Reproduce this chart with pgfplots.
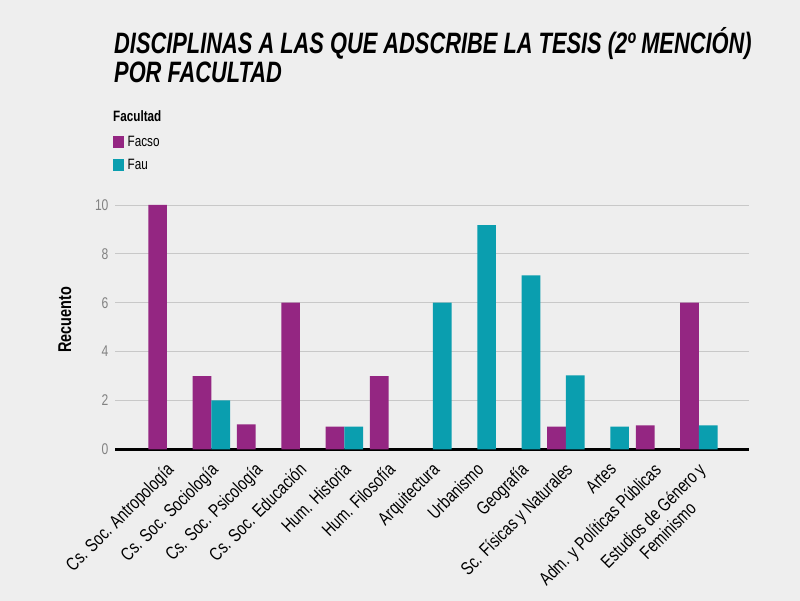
\documentclass[border=0pt]{standalone}
\usepackage{fontspec}
\setmainfont{Liberation Sans}[FakeStretch=0.78]
\newfontfamily\titlefont{Liberation Sans}[FakeStretch=0.74]
\usepackage{pgfplots}
\pgfplotsset{compat=1.18}
\definecolor{facso}{RGB}{148,38,130}
\definecolor{fau}{RGB}{10,158,175}
\definecolor{paper}{RGB}{238,238,238}
\definecolor{gridc}{RGB}{200,200,200}
\definecolor{tickc}{RGB}{130,130,130}

\begin{document}
\begin{tikzpicture}
  \fill[paper] (0pt,0pt) rectangle (800pt,601pt);
  \useasboundingbox (0pt,0pt) rectangle (800pt,601pt);
  % title
  \node[anchor=base west, inner sep=0pt, font=\titlefont\fontsize{29.5}{34}\selectfont\bfseries\itshape]
    at (114pt,547.7pt) {DISCIPLINAS A LAS QUE ADSCRIBE LA TESIS (2º MENCIÓN)};
  \node[anchor=base west, inner sep=0pt, font=\titlefont\fontsize{29.5}{34}\selectfont\bfseries\itshape]
    at (114pt,518.3pt) {POR FACULTAD};
  \node[anchor=base west, inner sep=0pt, font=\fontsize{15}{18}\selectfont\bfseries]
    at (113pt,479.3pt) {Facultad};

  \begin{axis}[
    at={(115pt,151.7pt)}, anchor=south west,
    scale only axis, width=634pt, height=249.2pt,
    ybar=0pt, bar width=18.7pt,
    xmin=-1.173, xmax=13.13, ymin=0, ymax=10.2,
    xtick={0,...,12},
    xticklabels={Cs. Soc. Antropología, Cs. Soc. Sociología, Cs. Soc. Psicología,
      Cs. Soc. Educación, Hum. Historia, Hum. Filosofía, Arquitectura, Urbanismo,
      Geografía, Sc. Físicas y Naturales, Artes, Adm. y Políticas Públicas,
      {Estudios de Género y\\Feminismo}},
    ytick={2,4,6,8,10},
    extra y ticks={0},
    extra y tick style={grid style={black, line width=3pt}},
    ymajorgrids,
    grid style={gridc, line width=0.8pt},
    axis line style={draw=none},
    tick style={draw=none},
    major tick length=0pt,
    yticklabel style={font=\fontsize{15.5}{18}\selectfont, text=tickc,
      /pgf/number format/assume math mode=true, xshift=-3pt},
    xticklabel style={font=\fontsize{18.5}{21}\selectfont, align=center,
      inner sep=0pt, xshift=-2pt, yshift=-12pt, rotate=45, anchor=north east},
    ylabel={Recuento},
    ylabel style={font=\fontsize{18.5}{21}\selectfont\bfseries,
      at={(axis description cs:-0.079,0.519)}, anchor=center},
    legend style={at={(axis description cs:-0.004,1.263)}, anchor=north west,
      draw=none, fill=none, font=\fontsize{15}{18}\selectfont,
      row sep=8pt, column sep=2pt, inner sep=0pt, nodes={inner sep=1.5pt}},
    legend cell align=left,
    legend image code/.code={\fill[#1] (0pt,-6.3pt) rectangle (11.5pt,6.3pt);},
  ]
    \addplot[fill=facso, draw=none] coordinates {
      (0,10) (1,3) (2,1.02) (3,6) (4,0.93) (5,3) (9,0.93) (11,0.98) (12,6)
    };
    \addlegendentry{Facso}
    \addplot[fill=fau, draw=none] coordinates {
      (1,2) (4,0.93) (6,6) (7,9.18) (8,7.12) (9,3.03) (10,0.93) (12,0.98)
    };
    \addlegendentry{Fau}
  \end{axis}
\end{tikzpicture}
\end{document}
